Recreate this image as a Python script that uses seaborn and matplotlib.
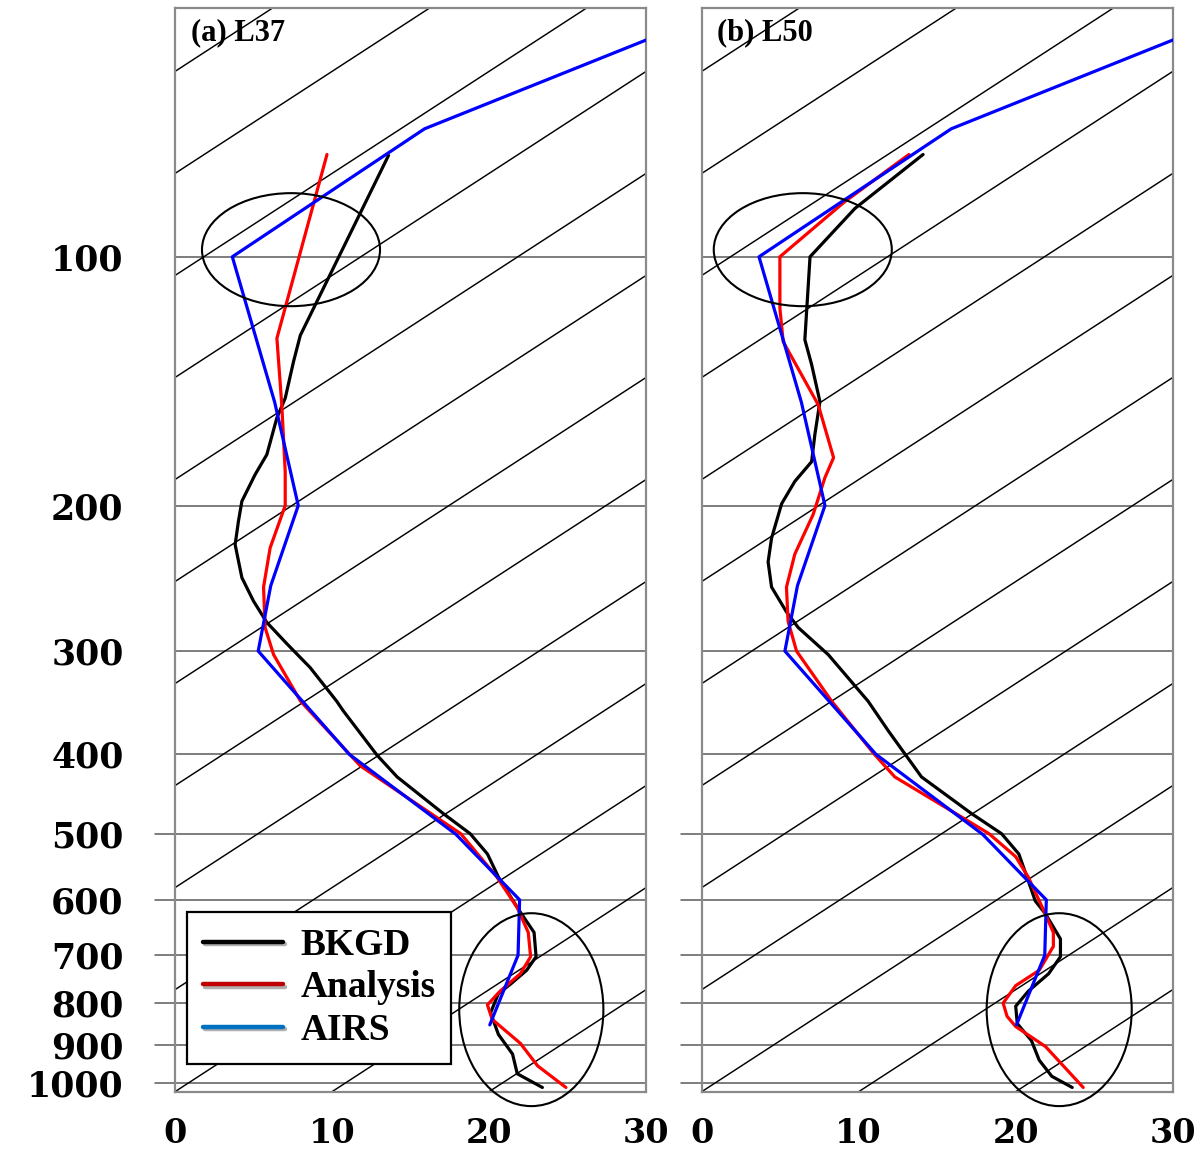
import numpy as np
import pandas as pd
import matplotlib
matplotlib.use("Agg")
import matplotlib.pyplot as plt
import matplotlib.patheffects as pe
from matplotlib.lines import Line2D
from matplotlib.patches import Ellipse
import seaborn as sns

# -----------------------------------------------------------------------------
# data: pressure (hPa) and temperature read on the skewed axis (deg C)
# -----------------------------------------------------------------------------
airs_p = [50, 70, 100, 150, 200, 250, 300, 400, 500, 600, 700, 850]
airs_t = [35.1, 15.9, 3.65, 6.35, 7.85, 6.1, 5.3, 11.1, 17.9, 21.95, 21.85, 20.05]

l37_bkgd_p = [75.4, 124.5, 133.9, 148.3, 156.6, 173.5, 183.5, 197.6, 209, 223,
              244.5, 261, 277, 294, 314, 345, 354, 401, 426, 472, 499, 528,
              563, 613, 657, 703, 730, 758, 779, 822, 873, 922, 974, 1012]
l37_bkgd_t = [13.6, 7.98, 7.55, 7.02, 6.49, 5.85, 5.1, 4.26, 4.04, 3.83,
              4.26, 5.0, 5.85, 7.13, 8.6, 10.3, 10.7, 12.87, 14.15, 17.1, 18.8, 19.9,
              20.6, 21.8, 22.87, 23.0, 22.4, 21.4, 20.6, 20.1, 20.6, 21.5, 21.8, 23.4]

l37_anl_p = [75.2, 125.5, 151, 182, 200, 225, 251, 281, 303, 345, 413, 499,
             563, 613, 657, 703, 737, 774, 804, 837, 895, 953, 1012]
l37_anl_t = [9.68, 6.49, 6.8, 7.02, 7.02, 6.06, 5.64, 5.74, 6.28, 8.0, 11.8, 18.2,
             20.5, 21.8, 22.5, 22.65, 22.0, 20.7, 19.9, 20.2, 22.0, 23.1, 24.9]

l50_bkgd_p = [75.2, 87.4, 100, 126, 135, 149.7, 164, 177, 187, 199, 219, 234,
              251, 269, 281, 303, 345, 375, 426, 472, 499, 528, 569, 602, 624,
              669, 703, 737, 774, 807, 847, 888, 938, 981, 1012]
l50_bkgd_t = [14.1, 9.76, 6.9, 6.57, 7.0, 7.53, 7.21, 7.0, 5.93, 5.09, 4.45, 4.23,
              4.45, 5.4, 6.15, 8.06, 10.6, 11.9, 14.0, 17.2, 19.1, 20.2, 20.8, 21.25, 21.9,
              22.85, 22.85, 22.1, 20.8, 20.0, 20.1, 21.0, 21.5, 22.3, 23.6]

l50_anl_p = [75.2, 85.8, 100, 115.4, 126.7, 151, 175, 185, 205, 229, 251, 276,
             300, 345, 400, 426, 477, 499, 532, 563, 613, 657, 683, 730, 762,
             800, 830, 854, 903, 965, 1012]
l50_anl_t = [13.2, 9.1, 4.98, 4.98, 5.19, 7.42, 8.4, 7.85, 7.1, 5.93, 5.4, 5.5,
             6.04, 8.28, 11.0, 12.3, 16.6, 18.3, 20.0, 20.8, 21.7, 22.4, 22.4, 21.5, 20.0,
             19.2, 19.45, 20.0, 21.9, 23.3, 24.3]

p_levels = [100, 200, 300, 400, 500, 600, 700, 800, 900, 1000]
p_ticked = [500, 600, 700, 800, 900, 1000]
t_ticks = [0, 10, 20, 30]
isotherms = list(range(-120, 40, 10))

P_TOP, P_BOT, SKEW = 50, 1024, 81.0

# -----------------------------------------------------------------------------
# style
# -----------------------------------------------------------------------------
sns.set_theme(style="white")
plt.rcParams["font.family"] = ["DejaVu Serif"]
plt.rcParams["font.weight"] = "bold"
plt.rcParams["text.color"] = "black"
SERIF = ["Liberation Serif", "DejaVu Serif"]
FRAME = "#8a8a8a"

fig = plt.figure(figsize=(12.01, 11.51), dpi=100)
ax_a = fig.add_axes([175 / 1201, 59.3 / 1151, 471 / 1201, 1083.7 / 1151])
ax_b = fig.add_axes([701.7 / 1201, 59.3 / 1151, 471 / 1201, 1083.7 / 1151])


def draw_panel(ax, bkgd, anl, title, show_labels):
    # skewed isotherms
    p_iso = np.geomspace(P_BOT, P_TOP, 60)
    for t in isotherms:
        ax.plot(t + SKEW * np.log10(P_BOT / p_iso), p_iso, color="black",
                lw=1.05, zorder=1.5)
    ax.hlines(p_levels, 0, 30, color="#5a5a5a", lw=1.1, zorder=1)

    for (p, t), col in [(bkgd, "black"), (anl, "#ff0000"), ((airs_p, airs_t), "#0000ff")]:
        df = pd.DataFrame({"t": t, "p": p})
        sns.lineplot(data=df, x="t", y="p", sort=False, estimator=None,
                     color=col, lw=2.3, ax=ax, zorder=3)

    ax.set_yscale("log")
    ax.set_ylim(P_BOT, P_TOP)
    ax.set_xlim(0, 30)
    ax.set_xlabel("")
    ax.set_ylabel("")
    ax.set_xticks(t_ticks)
    ax.set_yticks(p_levels)
    ax.minorticks_off()
    if show_labels:
        ax.set_yticklabels([str(v) for v in p_levels])
    else:
        ax.set_yticklabels([])
    ax.tick_params(axis="x", direction="out", length=8, width=1.4, color=FRAME,
                   pad=10, labelsize=24, labelcolor="black")
    ax.tick_params(axis="y", length=0, pad=37, labelsize=25, labelcolor="black")
    # short outward ticks for the lower levels
    for p in p_ticked:
        ax.plot([-0.043, 0], [p, p], color="#5a5a5a", lw=1.1,
                transform=ax.get_yaxis_transform(), clip_on=False)
    for s in ax.spines.values():
        s.set_color(FRAME)
        s.set_linewidth(1.6)
    ax.text(0.033, 0.991, title, transform=ax.transAxes, ha="left", va="top",
            fontsize=22, fontweight="bold", family=SERIF, color="black", zorder=5)


draw_panel(ax_a, (l37_bkgd_p, l37_bkgd_t), (l37_anl_p, l37_anl_t), "(a) L37", True)
draw_panel(ax_b, (l50_bkgd_p, l50_bkgd_t), (l50_anl_p, l50_anl_t), "(b) L50", False)

# highlighted regions
for ax, cx_top, cx_bot, w_bot in [(ax_a, 0.2463, 0.7565, 0.306), (ax_b, 0.2146, 0.759, 0.308)]:
    ax.add_patch(Ellipse((cx_top, 0.777), 0.378, 0.1043, transform=ax.transAxes,
                         fill=False, ec="black", lw=1.5, zorder=4))
    ax.add_patch(Ellipse((cx_bot, 0.0757), w_bot, 0.178, transform=ax.transAxes,
                         fill=False, ec="black", lw=1.5, zorder=4, clip_on=False))

# legend
shadow = [pe.SimpleLineShadow(offset=(1.5, -2), alpha=0.35), pe.Normal()]
handles = [Line2D([], [], color="black", lw=3.2, path_effects=shadow),
           Line2D([], [], color="#c00000", lw=3.2, path_effects=shadow),
           Line2D([], [], color="#0070c0", lw=3.2, path_effects=shadow)]
leg = ax_a.legend(handles, ["BKGD", "Analysis", "AIRS"], loc="lower left",
                  bbox_to_anchor=(0.0255, 0.026), borderaxespad=0,
                  prop={"family": SERIF, "weight": "bold", "size": 27},
                  handlelength=2.15, handletextpad=0.45, borderpad=0.42,
                  labelspacing=0.2, fancybox=False, framealpha=1,
                  edgecolor="black", labelcolor="black")
leg.get_frame().set_linewidth(1.6)
leg.set_zorder(6)

fig.savefig("out.png", dpi=100)
